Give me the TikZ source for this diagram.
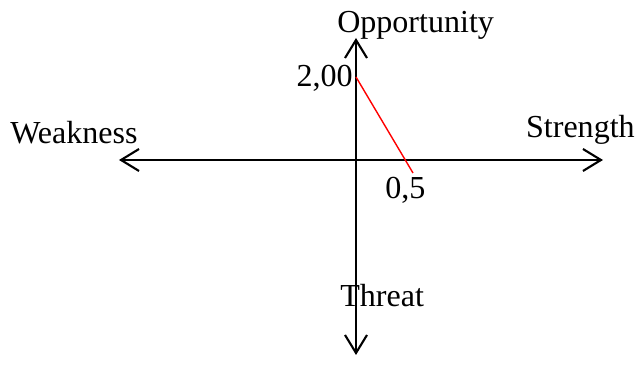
\documentclass[tikz,border=0pt]{standalone}
\usepackage{fontspec}
\setmainfont{Liberation Serif}
\usepackage{xcolor}
\usetikzlibrary{positioning, arrows.meta}

\begin{document}
\begin{tikzpicture}[
    axis/.style={
        -{Straight Barb[length=4.5mm, width=5.5mm]},
        line width=1.5pt
    },
    lbl/.style={
        inner sep=0pt,
        font=\fontsize{22.8}{26}\selectfont
    },
    trend/.style={
        red,
        line width=1pt
    }
]
\useasboundingbox (-8.9,-5.25) rectangle (7.1,4.0);

% Axis end points
\coordinate (o) at (0,0);
\coordinate (top) at (0,3.05);
\coordinate (bottom) at (0,-4.875);
\coordinate (left) at (-5.925,0);
\coordinate (right) at (6.175,0);

% Labels
\node (opp) at (1.49,3.175) [lbl, anchor=base] {Opportunity};
\node (weak) at (-8.65,0.4) [lbl, anchor=base west] {Weakness};
\node (str) at (6.975,0.55) [lbl, anchor=base east] {Strength};
\node (thr) at (-0.4,-3.675) [lbl, anchor=base west] {Threat};
\node (yval) at (-0.075,1.825) [lbl, anchor=base east] {2,00};
\node (xval) at (0.725,-0.975) [lbl, anchor=base west] {0,5};

% Axes
\draw [axis] (o) -- (top);
\draw [axis] (o) -- (bottom);
\draw [axis] (o) -- (left);
\draw [axis] (o) -- (right);

% Red line
\coordinate (p1) at (0,2.075);
\coordinate (p2) at (1.425,-0.325);
\draw [trend] (p1) -- (p2);

\end{tikzpicture}
\end{document}
